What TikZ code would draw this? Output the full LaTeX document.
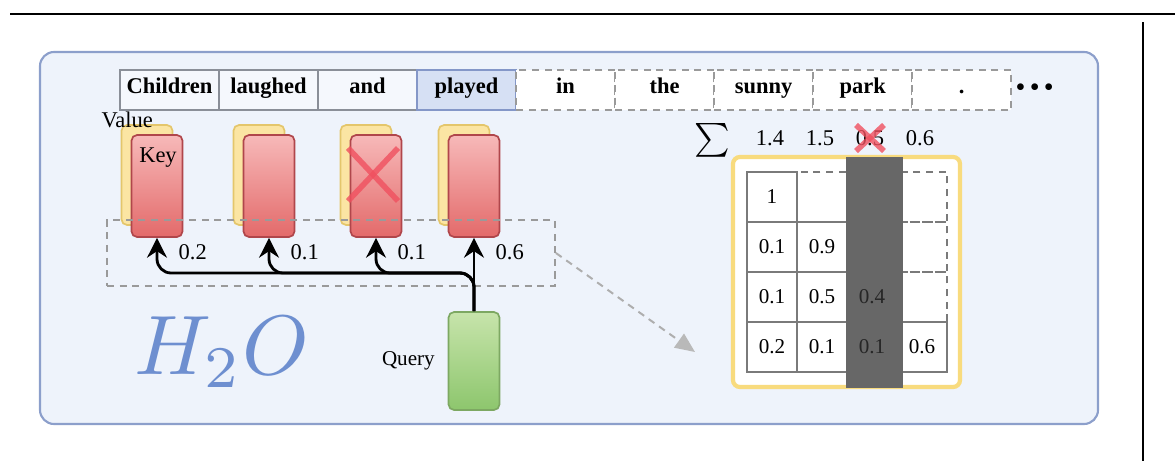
\documentclass[tikz,border=0pt]{standalone}
\usepackage[no-math]{fontspec}
\setmainfont{Liberation Serif}
\usetikzlibrary{positioning, arrows.meta}
\definecolor{boxblue}{HTML}{EEF3FB}
\definecolor{framebl}{HTML}{8C9FCB}
\definecolor{tokfill}{HTML}{F5F8FD}
\definecolor{tokgray}{HTML}{8A8F98}
\definecolor{playfill}{HTML}{D6E0F4}
\definecolor{playborder}{HTML}{8497C8}
\definecolor{dashgray}{HTML}{9A9A9A}
\definecolor{keytop}{HTML}{F7B9B9}
\definecolor{keybot}{HTML}{E36A6A}
\definecolor{keyborder}{HTML}{B0464B}
\definecolor{valfill}{HTML}{FBE5A3}
\definecolor{valborder}{HTML}{E4C66B}
\definecolor{qtop}{HTML}{C7E4AB}
\definecolor{qbot}{HTML}{8DC66D}
\definecolor{qborder}{HTML}{7DA862}
\definecolor{h2oblue}{HTML}{6E8FD0}
\definecolor{framey}{HTML}{F8DB7E}
\definecolor{cellgray}{HTML}{7A7A7A}
\definecolor{colgray}{HTML}{676767}
\definecolor{xred}{HTML}{F0505F}

\begin{document}
\begin{tikzpicture}[x=0.025cm,y=-0.025cm,
    tok/.style={draw=tokgray,fill=tokfill,line width=1.2pt,minimum width=2.475cm,minimum height=1cm,
      inner sep=0pt,outer sep=0pt,text height=0.7em,text depth=0.22em,font=\bfseries\fontsize{16}{16}\selectfont},
    ghost tok/.style={tok,draw=dashgray,fill=white,dash pattern=on 5pt off 4pt},
    key card/.style={draw=keyborder,top color=keytop,bottom color=keybot,line width=1.2pt,
      rounded corners=4pt,minimum width=1.275cm,minimum height=2.55cm,inner sep=0pt},
    value card/.style={key card,draw=valborder,top color=valfill,bottom color=valfill,minimum height=2.5cm},
    query card/.style={key card,draw=qborder,top color=qtop,bottom color=qbot,minimum height=2.45cm},
    txt/.style={font=\fontsize{16}{16}\selectfont,inner sep=1pt},
    cell/.style={draw=cellgray,line width=1.2pt,fill=white,minimum size=1.25cm,inner sep=0pt,
      outer sep=0pt,font=\fontsize{15}{15}\selectfont},
    ghost cell/.style={cell,fill=none,dash pattern=on 5pt off 4pt},
    attn/.style={draw=dashgray,line width=1.2pt,dash pattern=on 5pt off 4pt,minimum width=11.2cm,minimum height=1.65cm},
    conn/.style={line width=2pt,-{Stealth[length=14pt,width=14pt]}},
    dasharrow/.style={draw=dashgray!80,line width=1.4pt,dash pattern=on 5pt off 4pt,
      -{Triangle[length=14pt,width=12pt,color=gray!55,fill=gray!55]}},
    xmark/.style={draw=xred,line width=4pt,opacity=0.8}]

  \useasboundingbox (0,0) rectangle (1175,461);

  % page rules and the panel
  \draw[line width=2pt] (10,14) -- (1175,14);
  \draw[line width=1.2pt] (1143,22) -- (1143,461);
  \draw[draw=framebl,fill=boxblue,line width=1.5pt,rounded corners=10pt] (40,52) rectangle (1098,424);

  % tokens
  \node[tok] (t1) at (169.5,90) {Children};
  \node[tok, right=0pt of t1] (t2) {laughed};
  \node[tok, right=0pt of t2] (t3) {and};
  \node[tok, fill=playfill, draw=playborder, right=0pt of t3] (t4) {played};
  \node[ghost tok, right=0pt of t4] (t5) {in};
  \node[ghost tok, right=0pt of t5] (t6) {the};
  \node[ghost tok, right=0pt of t6] (t7) {sunny};
  \node[ghost tok, right=0pt of t7] (t8) {park};
  \node[ghost tok, right=0pt of t8] (t9) {.};
  \node[txt, font=\fontsize{20}{20}\selectfont, right=2pt of t9] (more) {\textbullet\hspace{3pt}\textbullet\hspace{3pt}\textbullet};

  % key / value cache
  \foreach \i/\x in {1/157, 2/269, 3/376, 4/474} {
    \node[value card] (v\i) at (\x-10,175) {};
    \node[key card] (k\i) at (\x,186) {};
  }
  \node[txt, anchor=west] (vlab) at (100,120) {Value};
  \node[txt] (klab) at (158,158) {Key};
  \draw[xmark] ([shift={(-28,-38)}]k3.center) -- ([shift={(22,15)}]k3.center);
  \draw[xmark] ([shift={(22,-38)}]k3.center) -- ([shift={(-28,15)}]k3.center);

  \node[attn] (att) at (331,253) {};

  % query and attention
  \node[query card] (q) at (474,361) {};
  \node[txt, font=\fontsize{15}{15}\selectfont, left=8pt of q] (qlab) {Query};
  \coordinate (bus) at (157,273);
  \draw[conn] (q.north) -- (k4.south);
  \foreach \i in {1,2,3}
    \draw[conn, rounded corners=10pt] (q.north) |- (k\i.south |- bus) -- (k\i.south);
  \foreach \i/\w in {1/0.2, 2/0.1, 3/0.1, 4/0.6}
    \node[txt, anchor=west] (w\i) at ([shift={(20,14)}]k\i.south) {\w};

  \node[text=h2oblue] (h2o) at (222,352) {\scalebox{6}{$H_2O$}};

  % attention matrix
  \coordinate (tgt) at (695,352);
  \draw[dasharrow] (att.east) -- (tgt);
  \node[draw=framey, line width=3pt, rounded corners=5pt, fill=white,
    minimum width=5.675cm, minimum height=5.75cm] (mframe) at (846.5,272) {};
  \foreach \r/\c in {1/2, 1/3, 1/4, 2/3, 2/4, 3/4}
    \node[ghost cell] (m\r\c) at (722+50*\c,147+50*\r) {};
  \foreach \r/\c/\v in {1/1/1, 2/1/0.1, 2/2/0.9, 3/1/0.1, 3/2/0.5, 3/3/{}, 4/1/0.2, 4/2/0.1, 4/3/{}, 4/4/0.6}
    \node[cell] (m\r\c) at (722+50*\c,147+50*\r) {\v};
  \fill[colgray] (846,157) rectangle (903,388);
  \node[txt, font=\fontsize{15}{15}\selectfont, text=black!85] (e33) at (m33) {0.4};
  \node[txt, font=\fontsize{15}{15}\selectfont, text=black!85] (e43) at (m43) {0.1};

  % column sums
  \node (sig) at (712,140) {\scalebox{2.4}{$\sum$}};
  \foreach \c/\s in {1/1.4, 2/1.5, 3/0.5, 4/0.6}
    \node[txt] (s\c) at (720+50*\c,138) {\s};
  \draw[xmark] ([shift={(-14,-13)}]s3.center) -- ([shift={(14,13)}]s3.center);
  \draw[xmark] ([shift={(14,-13)}]s3.center) -- ([shift={(-14,13)}]s3.center);
\end{tikzpicture}
\end{document}
